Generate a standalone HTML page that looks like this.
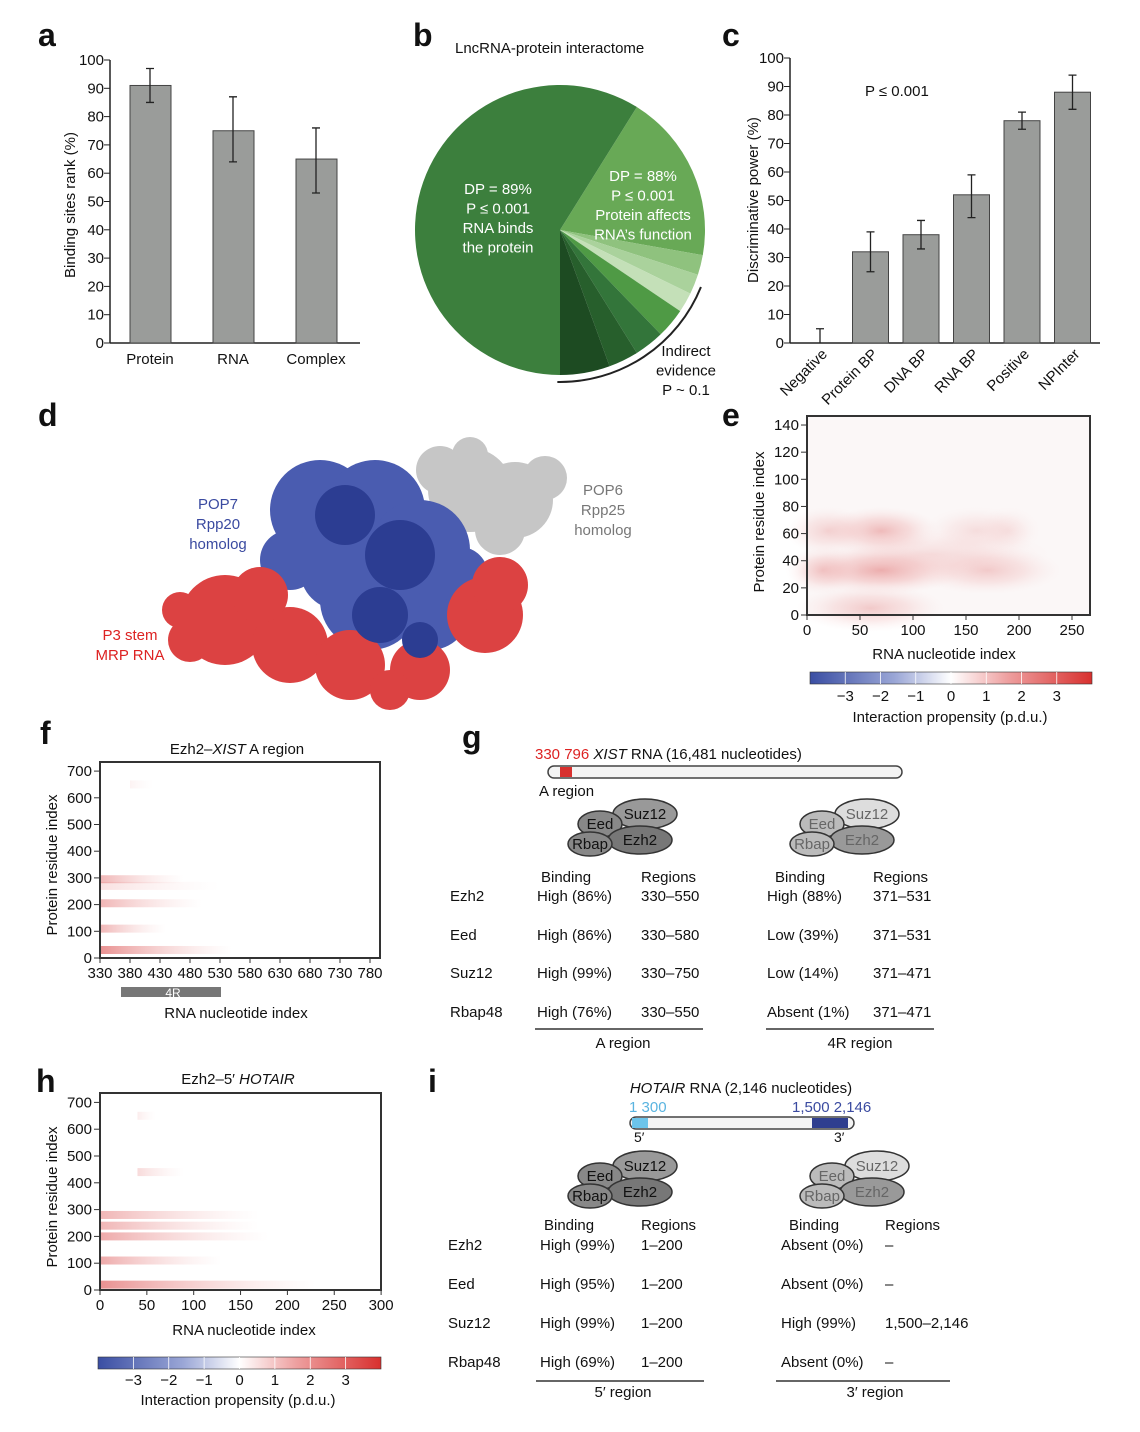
<!DOCTYPE html>
<html><head><meta charset="utf-8"><style>
body{margin:0;background:#fff;}
svg{display:block;font-family:"Liberation Sans",sans-serif;}
text{fill:#111;}
</style></head><body>
<svg id="fig" width="1140" height="1432" viewBox="0 0 1140 1432">
<defs>
<linearGradient id="cmap" x1="0" x2="1" y1="0" y2="0">
<stop offset="0" stop-color="#3a4ea3"/><stop offset="0.3" stop-color="#9aa6d6"/><stop offset="0.5" stop-color="#ffffff"/><stop offset="0.7" stop-color="#eea0a0"/><stop offset="1" stop-color="#d8302e"/>
</linearGradient>
<radialGradient id="blob"><stop offset="0" stop-color="#e58a8a" stop-opacity="0.7"/><stop offset="0.5" stop-color="#f0b4b4" stop-opacity="0.5"/><stop offset="1" stop-color="#f8dede" stop-opacity="0"/></radialGradient>
<linearGradient id="streak" x1="0" x2="1"><stop offset="0" stop-color="#e06666" stop-opacity="0.8"/><stop offset="1" stop-color="#f3c0c0" stop-opacity="0"/></linearGradient>
</defs>
<g id="labels" font-weight="bold" font-size="32">
<text x="38" y="46">a</text>
<text x="413" y="46">b</text>
<text x="722" y="46">c</text>
<text x="38" y="426">d</text>
<text x="722" y="426">e</text>
<text x="40" y="744">f</text>
<text x="462" y="748">g</text>
<text x="36" y="1092">h</text>
<text x="428" y="1092">i</text>
</g>
<g id="pa"></g><g id="pb"></g><g id="pc"></g><g id="pd"></g><g id="pe"></g><g id="pf"></g><g id="pg"></g><g id="ph"></g><g id="pi"></g>
</svg>
<script>
// ---- data ----
const aCats=["Protein","RNA","Complex"];
const aVals=[91,75,65];
const aLo=[85,64,53];
const aHi=[97,87,76];
const cCats=["Negative","Protein BP","DNA BP","RNA BP","Positive","NPInter"];
const cVals=[0,32,38,52,78,88];
const cLo=[0,25,33,44,75,82];
const cHi=[5,39,43,59,81,94];
const pieVals=[68,8,8,8,12,12,12,20,212];
const pieColors=["#68a956","#8fc27e","#aad29c","#c4e0b8","#4f9a45","#33753a","#275f2c","#1d4b22","#3c7f3d"];
// e heatmap blobs: nucleotide, residue, intensity, width
const eNuc=[70,70,20,160,170,60,190,15,120];
const eRes=[33,62,62,62,33,5,62,33,45];
const eInt=[1.0,0.8,0.5,0.35,0.6,0.6,0.25,0.6,0.35];
const eWid=[80,55,40,50,70,70,30,35,110];
// f streaks
const fRes=[30,110,205,295,270,650];
const fStart=[330,330,330,330,330,380];
const fEnd=[550,440,500,470,530,420];
const fInt=[0.9,0.6,0.6,0.6,0.25,0.1];
// h streaks
const hRes=[20,110,200,240,280,440,650];
const hStart=[0,0,0,0,0,40,40];
const hEnd=[230,130,180,170,170,90,60];
const hInt=[0.9,0.7,0.7,0.6,0.6,0.3,0.15];
const cbTicks=[-3,-2,-1,0,1,2,3];

const NS="http://www.w3.org/2000/svg";
function mk(p,tag,at,txt){const e=document.createElementNS(NS,tag);for(const k in at)e.setAttribute(k,at[k]);if(txt!==undefined)e.textContent=txt;p.appendChild(e);return e;}
const $=id=>document.getElementById(id);

// ---- panel a ----
(function(){const g=$('pa');const y=v=>343-v*2.83;const x=i=>150+i*83;
let e=mk(g,'line',{x1:110,y1:60,x2:110,y2:343,stroke:'#222','stroke-width':1.5});
e=mk(g,'line',{x1:110,y1:343,x2:360,y2:343,stroke:'#222','stroke-width':1.5});
for(let t=0;t<=100;t+=10){mk(g,'line',{x1:104,x2:110,y1:y(t),y2:y(t),stroke:'#222'});e=mk(g,'text',{x:104,y:y(t)+5,'text-anchor':'end','font-size':15},t);}
e=mk(g,'text',{transform:'translate(75,205) rotate(-90)','text-anchor':'middle','font-size':15},'Binding sites rank (%)');
aVals.forEach((v,i)=>{e=mk(g,'rect',{x:x(i)-20,y:y(v),width:41,height:343-y(v),fill:'#9a9c9a',stroke:'#444'});
mk(g,'path',{d:`M${x(i)} ${y(aLo[i])}V${y(aHi[i])}M${x(i)-4} ${y(aLo[i])}h8M${x(i)-4} ${y(aHi[i])}h8`,stroke:'#222','stroke-width':1.3,fill:'none'});
e=mk(g,'text',{x:x(i),y:364,'text-anchor':'middle','font-size':15},aCats[i]);});})();

// ---- panel b ----
(function(){const g=$('pb');const cx=560,cy=230,r=145;
let e=mk(g,'text',{x:455,y:53,'font-size':15},'LncRNA-protein interactome');
let a0=32;const pt=(a,rr)=>[cx+rr*Math.sin(a*Math.PI/180),cy-rr*Math.cos(a*Math.PI/180)];
pieVals.forEach((v,i)=>{const a1=a0+v;const p0=pt(a0,r),p1=pt(a1,r);
e=mk(g,'path',{d:`M${cx} ${cy}L${p0[0]} ${p0[1]}A${r} ${r} 0 ${v>180?1:0} 1 ${p1[0]} ${p1[1]}Z`,fill:pieColors[i]});a0=a1;});
const q0=pt(112,r+7),q1=pt(181,r+7);
e=mk(g,'path',{d:`M${q0[0]} ${q0[1]}A${r+7} ${r+7} 0 0 1 ${q1[0]} ${q1[1]}`,fill:'none',stroke:'#222','stroke-width':2});
const t=(x,y,s,c,n)=>{const el=mk(g,'text',{x,y,'text-anchor':'middle','font-size':15,style:'fill:'+c},s);};
['DP = 89%','P ≤ 0.001','RNA binds','the protein'].forEach((s,i)=>t(498,194+i*19.5,s,'#fff','dp-label-left'));
['DP = 88%','P ≤ 0.001','Protein affects','RNA\u2019s function'].forEach((s,i)=>t(643,181+i*19.5,s,'#fff','dp-label-right'));
['Indirect','evidence','P ~ 0.1'].forEach((s,i)=>t(686,356+i*19.5,s,'#111','indirect-label'));})();

// ---- panel c ----
(function(){const g=$('pc');const y=v=>343-v*2.85;const x=i=>820+i*50.5;let e;
e=mk(g,'line',{x1:790,y1:58,x2:790,y2:343,stroke:'#222','stroke-width':1.5});
e=mk(g,'line',{x1:790,y1:343,x2:1100,y2:343,stroke:'#222','stroke-width':1.5});
for(let t=0;t<=100;t+=10){mk(g,'line',{x1:784,x2:790,y1:y(t),y2:y(t),stroke:'#222'});e=mk(g,'text',{x:784,y:y(t)+5,'text-anchor':'end','font-size':15},t);}
e=mk(g,'text',{transform:'translate(758,200) rotate(-90)','text-anchor':'middle','font-size':15},'Discriminative power (%)');
e=mk(g,'text',{x:865,y:96,'font-size':15},'P ≤ 0.001');
cVals.forEach((v,i)=>{if(v>0){e=mk(g,'rect',{x:x(i)-18,y:y(v),width:36,height:343-y(v),fill:'#9a9c9a',stroke:'#444'});}
mk(g,'path',{d:`M${x(i)} ${y(cLo[i])}V${y(cHi[i])}M${x(i)-4} ${y(cHi[i])}h8`+(v>0?`M${x(i)-4} ${y(cLo[i])}h8`:''),stroke:'#222','stroke-width':1.3,fill:'none'});
e=mk(g,'text',{transform:`translate(${x(i)+8},355) rotate(-45)`,'text-anchor':'end','font-size':15},cCats[i]);});})();

// ---- panel d (structure) ----
(function(){const g=$('pd');let e;
const circ=(c,col,n)=>c.forEach(([x,y,r])=>{e=mk(g,'circle',{cx:x,cy:y,r,fill:col});});
circ([[470,490,42],[515,500,38],[545,478,22],[440,470,24],[470,455,18],[500,530,25]],'#c6c6c6','pop6-surface');
circ([[320,510,50],[375,510,50],[420,550,50],[290,560,30],[430,610,40],[370,600,50],[460,575,28],[340,570,40]],'#4a5cb0','pop7-surface');
circ([[225,620,45],[290,645,38],[350,665,35],[260,595,28],[485,615,38],[500,585,28],[420,670,30],[190,640,22],[180,610,18],[390,690,20]],'#dc4242','p3-surface');
circ([[345,515,30],[400,555,35],[380,615,28],[420,640,18]],'#2c3d92','pop7-ribbon');
const t=(x,y,s,c,n)=>{const el=mk(g,'text',{x,y,'text-anchor':'middle','font-size':15,style:'fill:'+c},s);};
['POP7','Rpp20','homolog'].forEach((s,i)=>t(218,509+i*20,s,'#3a4aa0','pop7-label'));
['POP6','Rpp25','homolog'].forEach((s,i)=>t(603,495+i*20,s,'#777','pop6-label'));
['P3 stem','MRP RNA'].forEach((s,i)=>t(130,640+i*20,s,'#d22','p3-label'));})();

function colorbar(g,x0,x1,y0,labY,titleX,titleY){let e=mk(g,'rect',{x:x0,y:y0,width:x1-x0,height:12,fill:'url(#cmap)',stroke:'#333','stroke-width':0.6});
const sx=v=>x0+(x1-x0)*(v+4)/8;
cbTicks.forEach(v=>{mk(g,'line',{x1:sx(v),x2:sx(v),y1:y0,y2:y0+12,stroke:'#fff','stroke-width':0.8});e=mk(g,'text',{x:sx(v),y:labY,'text-anchor':'middle','font-size':15},v<0?'\u2212'+(-v):v);});
e=mk(g,'text',{x:titleX,y:titleY,'text-anchor':'middle','font-size':15},'Interaction propensity (p.d.u.)');}
function axes(g,X0,X1,Y0,Y1,xt,xs,yt,ys,pre){let e=mk(g,'rect',{x:X0,y:Y1,width:X1-X0,height:Y0-Y1,fill:'none',stroke:'#333','stroke-width':2});
xt.forEach(v=>{mk(g,'line',{x1:xs(v),x2:xs(v),y1:Y0,y2:Y0+5,stroke:'#333'});e=mk(g,'text',{x:xs(v),y:Y0+20,'text-anchor':'middle','font-size':15},v);});
yt.forEach(v=>{mk(g,'line',{x1:X0-6,x2:X0,y1:ys(v),y2:ys(v),stroke:'#333'});e=mk(g,'text',{x:X0-8,y:ys(v)+5,'text-anchor':'end','font-size':15},v);});}

// ---- panel e ----
(function(){const g=$('pe');const xs=v=>807+v*1.06,ys=v=>615-v*1.357;let e;
e=mk(g,'rect',{x:807,y:416,width:283,height:199,fill:'#fbf7f7'});
eNuc.forEach((n,i)=>{e=mk(g,'ellipse',{cx:xs(n),cy:ys(eRes[i]),rx:eWid[i]*1.06,ry:24,fill:'url(#blob)',opacity:eInt[i]});});
axes(g,807,1090,615,416,[0,50,100,150,200,250],xs,[0,20,40,60,80,100,120,140],ys,'e');
e=mk(g,'text',{x:944,y:659,'text-anchor':'middle','font-size':15},'RNA nucleotide index');
e=mk(g,'text',{transform:'translate(764,522) rotate(-90)','text-anchor':'middle','font-size':15},'Protein residue index');
colorbar(g,810,1092,672,701,950,722);})();

function streaks(g,R,S,E,I,xs,ys,pre){R.forEach((r,i)=>{const e=mk(g,'rect',{x:xs(S[i]),y:ys(r)-4,width:xs(E[i])-xs(S[i]),height:8,fill:'url(#streak)',opacity:I[i]});});}

// ---- panel f ----
(function(){const g=$('pf');const xs=v=>100+(v-330)*0.6,ys=v=>958-v*0.267;let e;
streaks(g,fRes,fStart,fEnd,fInt,xs,ys,'f');
axes(g,100,380,958,762,[330,380,430,480,530,580,630,680,730,780],xs,[0,100,200,300,400,500,600,700],ys,'f');
e=mk(g,'text',{x:237,y:754,'text-anchor':'middle','font-size':15});
e.innerHTML='Ezh2–<tspan font-style="italic">XIST</tspan> A region';
e=mk(g,'rect',{x:121,y:987,width:100,height:10,fill:'#777'});
e=mk(g,'text',{x:173,y:997,'text-anchor':'middle','font-size':12,style:'fill:#fff'},'4R');
e=mk(g,'text',{x:236,y:1018,'text-anchor':'middle','font-size':15},'RNA nucleotide index');
e=mk(g,'text',{transform:'translate(57,865) rotate(-90)','text-anchor':'middle','font-size':15},'Protein residue index');})();

// ---- panel h ----
(function(){const g=$('ph');const xs=v=>100+v*0.937,ys=v=>1290-v*0.268;let e;
streaks(g,hRes,hStart,hEnd,hInt,xs,ys,'h');
axes(g,100,381,1290,1093,[0,50,100,150,200,250,300],xs,[0,100,200,300,400,500,600,700],ys,'h');
e=mk(g,'text',{x:238,y:1084,'text-anchor':'middle','font-size':15});e.innerHTML='Ezh2–5\u2032 <tspan font-style="italic">HOTAIR</tspan>';
e=mk(g,'text',{x:244,y:1335,'text-anchor':'middle','font-size':15},'RNA nucleotide index');
e=mk(g,'text',{transform:'translate(57,1197) rotate(-90)','text-anchor':'middle','font-size':15},'Protein residue index');
colorbar(g,98,381,1357,1385,238,1405);})();

function complex(g,x,y,faded,pre){const f=faded?['#ddd','#bbb','#999','#bbb']:['#999','#888','#777','#888'];let e;
[[x+45,y,32,15,f[0],'Suz12'],[x,y+10,22,13,f[1],'Eed'],[x+40,y+26,32,14,f[2],'Ezh2'],[x-10,y+30,22,12,f[3],'Rbap']].forEach(([cx,cy,rx,ry,c,s])=>{
e=mk(g,'ellipse',{cx,cy,rx,ry,fill:c,stroke:'#333','stroke-width':1.5});
e=mk(g,'text',{x:cx,y:cy+5,'text-anchor':'middle','font-size':15,style:faded?'fill:#666':''},s);});}
function table(g,x0,y0,rows,cols,lhs,rhs,rowY,pre){let e;
const T=(x,y,s,n)=>{e=mk(g,'text',{x,y,'font-size':15},s);};
T(cols[0],y0,'Binding',pre+'-header');T(cols[1],y0,'Regions',pre+'-header');T(cols[2],y0,'Binding',pre+'-header');T(cols[3],y0,'Regions',pre+'-header');
rows.forEach((r,i)=>{const y=rowY[i];T(x0,y,r,pre+'-protein-name');T(cols[0]-4,y,lhs[i][0],pre+'-binding');T(cols[1],y,lhs[i][1],pre+'-region');T(cols[2]-8,y,rhs[i][0],pre+'-binding');T(cols[3],y,rhs[i][1],pre+'-region');});}

// ---- panel g ----
(function(){const g=$('pg');let e;
e=mk(g,'text',{x:535,y:759,'font-size':15});e.innerHTML='<tspan style="fill:#d22">330  796</tspan>   <tspan font-style="italic">XIST</tspan> RNA (16,481 nucleotides)';
e=mk(g,'rect',{x:548,y:766,width:354,height:12,rx:6,fill:'#f4f4f4',stroke:'#444','stroke-width':1.5});
e=mk(g,'rect',{x:560,y:767,width:12,height:10,fill:'#d8302e'});
e=mk(g,'text',{x:539,y:796,'font-size':15},'A region');
complex(g,600,814,false,'g-complex-a');complex(g,822,814,true,'g-complex-4r');
table(g,450,882,['Ezh2','Eed','Suz12','Rbap48'],[541,641,775,873],
[['High (86%)','330–550'],['High (86%)','330–580'],['High (99%)','330–750'],['High (76%)','330–550']],
[['High (88%)','371–531'],['Low (39%)','371–531'],['Low (14%)','371–471'],['Absent (1%)','371–471']],[901,940,978,1017],'g');
mk(g,'line',{x1:535,x2:703,y1:1029,y2:1029,stroke:'#666','stroke-width':2});mk(g,'line',{x1:766,x2:934,y1:1029,y2:1029,stroke:'#666','stroke-width':2});
e=mk(g,'text',{x:623,y:1048,'text-anchor':'middle','font-size':15},'A region');
e=mk(g,'text',{x:860,y:1048,'text-anchor':'middle','font-size':15},'4R region');})();

// ---- panel i ----
(function(){const g=$('pi');let e;
e=mk(g,'text',{x:741,y:1093,'text-anchor':'middle','font-size':15});e.innerHTML='<tspan font-style="italic">HOTAIR</tspan> RNA (2,146 nucleotides)';
e=mk(g,'text',{x:629,y:1112,'font-size':15,style:'fill:#5ab4e0'},'1  300');
e=mk(g,'text',{x:792,y:1112,'font-size':15,style:'fill:#3a4aa0'},'1,500 2,146');
e=mk(g,'rect',{x:630,y:1117,width:224,height:12,rx:6,fill:'#f4f4f4',stroke:'#444','stroke-width':1.5});
e=mk(g,'rect',{x:632,y:1118,width:16,height:10,fill:'#6cc4ea'});
e=mk(g,'rect',{x:812,y:1118,width:36,height:10,fill:'#2f3e8f'});
e=mk(g,'text',{x:634,y:1142,'font-size':14},'5\u2032');
e=mk(g,'text',{x:834,y:1142,'font-size':14},'3\u2032');
complex(g,600,1166,false,'i-complex-5');complex(g,832,1166,true,'i-complex-3');
table(g,448,1230,['Ezh2','Eed','Suz12','Rbap48'],[544,641,789,885],
[['High (99%)','1–200'],['High (95%)','1–200'],['High (99%)','1–200'],['High (69%)','1–200']],
[['Absent (0%)','    –'],['Absent (0%)','    –'],['High (99%)','1,500–2,146'],['Absent (0%)','    –']],[1250,1289,1328,1367],'i');
mk(g,'line',{x1:536,x2:704,y1:1381,y2:1381,stroke:'#666','stroke-width':2});mk(g,'line',{x1:776,x2:950,y1:1381,y2:1381,stroke:'#666','stroke-width':2});
e=mk(g,'text',{x:623,y:1397,'text-anchor':'middle','font-size':15},'5\u2032 region');
e=mk(g,'text',{x:875,y:1397,'text-anchor':'middle','font-size':15},'3\u2032 region');})();
</script>
</body></html>
